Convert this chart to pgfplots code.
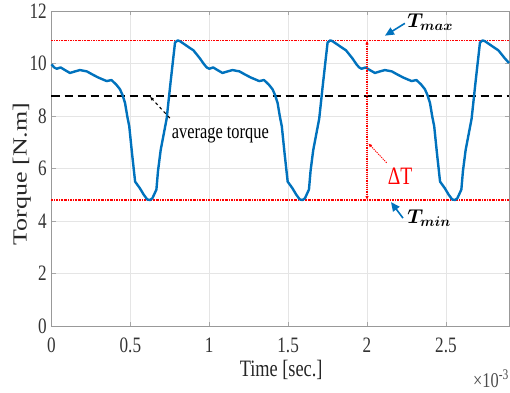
\RequirePackage{fix-cm}
\documentclass[border=0pt]{standalone}
\usepackage{fontspec}
\setmainfont{Liberation Serif}[FakeStretch=0.78]
\newfontfamily\ylabfont{Liberation Serif}[FakeStretch=1.3]
\usepackage{bm}
\usepackage{pgfplots}
\pgfplotsset{compat=1.18}
\usetikzlibrary{arrows.meta}
\definecolor{mblue}{RGB}{0,114,189}
\begin{document}
\begin{tikzpicture}[font=\fontsize{21}{24}\selectfont]
\begin{axis}[
  scale only axis, width=457.5pt, height=315pt,
  xmin=0, xmax=2.9, ymin=0, ymax=12,
  xtick={0,0.5,1,1.5,2,2.5},
  xticklabels={0,0.5,1,1.5,2,2.5},
  ytick={0,2,4,6,8,10,12},
  /pgf/number format/assume math mode=true,
  tick align=inside, major tick length=4pt,
  tick style={gray!70},
  axis line style={gray!80},
  grid=major, major grid style={gray!20, line width=0.6pt},
  xticklabel style={inner sep=0pt, anchor=north, yshift=-12pt, text=black!80, font=\fontsize{22}{25}\selectfont},
  yticklabel style={inner sep=0pt, anchor=east, xshift=-4.5pt, text=black!80, font=\fontsize{22}{25}\selectfont},
  xlabel={Time [sec.]},
  xlabel style={at={(axis description cs:0.502,-0.108)}, anchor=north, inner sep=0pt, font=\fontsize{23.5}{26}\selectfont, text=black!85},
  ylabel={\ylabfont Torque [N.m]},
  ylabel style={at={(axis description cs:-0.0448,0.4825)}, anchor=south, inner sep=0pt, font=\fontsize{20}{23}\selectfont, text=black!85},
  clip=false,
]
% reference lines
\addplot[red, line width=1.1pt, dash pattern=on 2pt off 1pt on 0.6pt off 1pt] coordinates {(0,10.88) (2.9,10.88)};
\addplot[red, line width=1.1pt, dash pattern=on 2pt off 1pt on 0.6pt off 1pt] coordinates {(0,4.80) (2.9,4.80)};
\addplot[black, line width=2pt, dash pattern=on 8pt off 5pt] coordinates {(0,8.75) (2.9,8.75)};
% torque waveform
\addplot[mblue, line width=2.4pt, line join=round] coordinates {
(0.000,9.97) (0.017,9.85) (0.033,9.80) (0.058,9.85) (0.085,9.75) (0.117,9.64) (0.150,9.70) (0.180,9.75) (0.224,9.70) (0.260,9.58)
(0.295,9.47) (0.330,9.38) (0.350,9.33) (0.380,9.37) (0.410,9.20) (0.434,9.02) (0.450,8.80) (0.466,8.50) (0.480,8.00) (0.493,7.60)
(0.510,6.60) (0.530,5.50) (0.560,5.25) (0.585,5.00) (0.607,4.82) (0.625,4.80) (0.640,4.87) (0.665,5.20) (0.675,5.90) (0.692,6.70)
(0.730,7.90) (0.755,9.30) (0.783,10.80) (0.800,10.88) (0.814,10.85) (0.846,10.72) (0.870,10.62) (0.900,10.50) (0.920,10.35) (0.940,10.20)
(0.967,9.97) (0.984,9.85) (1.000,9.80) (1.025,9.85) (1.052,9.75) (1.084,9.64) (1.117,9.70) (1.147,9.75) (1.191,9.70) (1.227,9.58)
(1.262,9.47) (1.297,9.38) (1.317,9.33) (1.347,9.37) (1.377,9.20) (1.401,9.02) (1.417,8.80) (1.433,8.50) (1.447,8.00) (1.460,7.60)
(1.477,6.60) (1.497,5.50) (1.527,5.25) (1.552,5.00) (1.574,4.82) (1.592,4.80) (1.607,4.87) (1.632,5.20) (1.642,5.90) (1.659,6.70)
(1.697,7.90) (1.722,9.30) (1.750,10.80) (1.767,10.88) (1.781,10.85) (1.813,10.72) (1.837,10.62) (1.867,10.50) (1.887,10.35) (1.907,10.20)
(1.933,9.97) (1.950,9.85) (1.966,9.80) (1.991,9.85) (2.018,9.75) (2.050,9.64) (2.083,9.70) (2.113,9.75) (2.157,9.70) (2.193,9.58)
(2.228,9.47) (2.263,9.38) (2.283,9.33) (2.313,9.37) (2.343,9.20) (2.367,9.02) (2.383,8.80) (2.399,8.50) (2.413,8.00) (2.426,7.60)
(2.443,6.60) (2.463,5.50) (2.493,5.25) (2.518,5.00) (2.540,4.82) (2.558,4.80) (2.573,4.87) (2.598,5.20) (2.608,5.90) (2.625,6.70)
(2.663,7.90) (2.688,9.30) (2.716,10.80) (2.733,10.88) (2.747,10.85) (2.779,10.72) (2.803,10.62) (2.833,10.50) (2.853,10.35) (2.873,10.20)
(2.900,10.02)
};
% annotations
\draw[red, line width=1.1pt, dash pattern=on 1.2pt off 1pt, {Latex[length=4pt,width=3.5pt]}-{Latex[length=4pt,width=3.5pt]}] (axis cs:2.0,10.88) -- (axis cs:2.0,4.80);
\draw[red, line width=0.9pt, dash pattern=on 1.2pt off 1pt, -{Latex[length=4pt,width=3.5pt]}] (axis cs:2.124,6.22) -- (axis cs:2.008,6.96);
\node[red, font=\fontsize{25}{28}\selectfont] at (axis cs:2.21,5.70) {ΔT};
\draw[mblue, line width=1.6pt, -{Triangle[length=9pt,width=8pt]}] (axis cs:2.24,11.53) -- (axis cs:2.114,11.06);
\draw[mblue, line width=1.6pt, -{Triangle[length=9pt,width=8pt]}] (axis cs:2.228,4.11) -- (axis cs:2.152,4.72);
\node[anchor=base west, inner sep=0pt, font=\fontsize{20}{23}\selectfont] at (axis cs:2.255,11.36) {$\bm{T_{max}}$};
\node[anchor=base west, inner sep=0pt, font=\fontsize{20}{23}\selectfont] at (axis cs:2.255,3.89) {$\bm{T_{min}}$};
\draw[black, line width=1.1pt, dash pattern=on 3pt off 3pt, -{Latex[length=4pt,width=3.5pt]}] (axis cs:0.75,7.92) -- (axis cs:0.624,8.74);
\node[anchor=west, inner sep=0pt, font=\fontsize{21}{24}\selectfont] at (axis cs:0.762,7.28) {average torque};
\node[anchor=north east, inner sep=0pt, text=gray!60!black, font=\fontsize{21}{24}\selectfont] at (rel axis cs:1,0) [yshift=-44pt] {×10\textsuperscript{-3}};
\coordinate (sw) at (rel axis cs:0,0);
\coordinate (ne) at (rel axis cs:1,1);
\end{axis}
\pgfresetboundingbox
\path[use as bounding box] ([xshift=-51.5pt,yshift=-66pt]sw) rectangle ([xshift=1pt,yshift=11pt]ne);
\end{tikzpicture}
\end{document}
